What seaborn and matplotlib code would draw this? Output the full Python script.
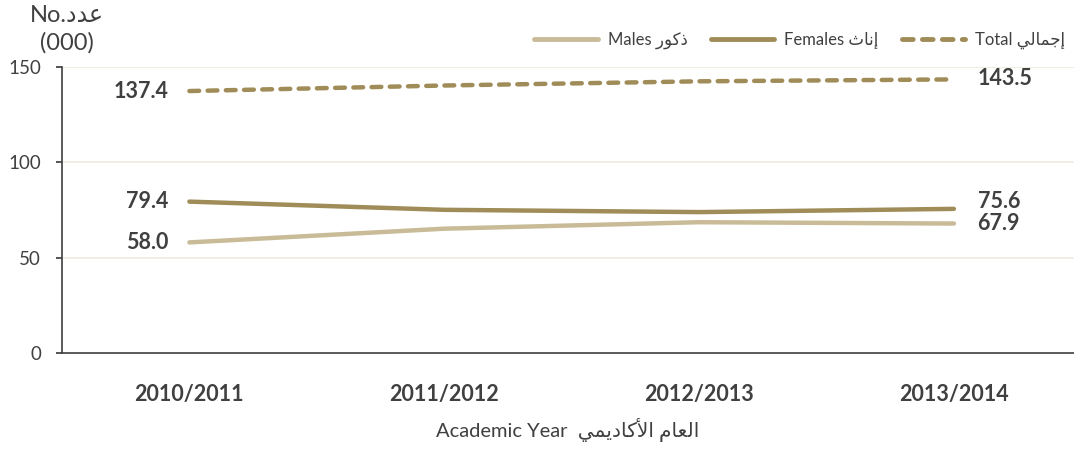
import matplotlib
matplotlib.use("Agg")
import matplotlib.pyplot as plt
import seaborn as sns
import pandas as pd

years = ["2010/2011", "2011/2012", "2012/2013", "2013/2014"]
males = [58.0, 65.2, 68.6, 67.9]
females = [79.4, 75.1, 73.9, 75.6]
total = [137.4, 140.3, 142.5, 143.5]

# Arabic words in visual (left-to-right) order using presentation forms
ar_no = "\uFEA9\uFEAA\uFECB"
ar_males = "\uFEAD\uFEEE\uFEDB\uFEAB"
ar_females = "\uFE99\uFE8E\uFEE7\uFE87"
ar_total = "\uFEF2\uFEDF\uFE8E\uFEE4\uFE9F\uFE87"
ar_year = "\uFEF2\uFEE4\uFEF3\uFEA9\uFE8E\uFEDB\uFEF7\uFE8D \uFEE1\uFE8E\uFECC\uFEDF\uFE8D"

lab_m = "Males " + ar_males
lab_f = "Females " + ar_females
lab_t = "Total " + ar_total

df = pd.DataFrame({
    "year": years * 3,
    "x": list(range(4)) * 3,
    "value": males + females + total,
    "series": [lab_m] * 4 + [lab_f] * 4 + [lab_t] * 4,
})

sns.set_theme(style="white")
plt.rcParams["font.family"] = ["Lato", "DejaVu Sans"]

text_c = "#404040"
c_m = "#c9bb98"
c_f = "#a08c58"

fig = plt.figure(figsize=(10.74, 4.51), dpi=100)
ax = fig.add_axes([0.0577, 0.2173, 0.942, 0.6341])

sns.lineplot(data=df, x="x", y="value", hue="series", style="series",
             palette={lab_m: c_m, lab_f: c_f, lab_t: c_f},
             dashes={lab_m: "", lab_f: "", lab_t: (2.2, 1.9)},
             linewidth=3.2, ax=ax, legend=True)
for ln in ax.lines:
    ln.set_solid_capstyle("round")
    ln.set_dash_capstyle("round")

ax.set_xlim(-0.5, 3.47)
ax.set_ylim(0, 150)
ax.set_yticks([0, 50, 100, 150])
ax.set_xticks(range(4))
ax.set_xticklabels(years, fontsize=15.5, fontweight="bold", color=text_c)
ax.tick_params(axis="y", labelsize=13.5, labelcolor=text_c, left=True, length=4, color="#404040", pad=11)
ax.tick_params(axis="x", bottom=False, pad=16)
ax.set_xlabel("Academic Year  " + ar_year, fontsize=14.5, color=text_c, labelpad=10)
ax.set_ylabel("")
for y in [50, 100, 150]:
    ax.axhline(y, color="#efe9dc", lw=1.2, zorder=0)
for s in ["top", "right"]:
    ax.spines[s].set_visible(False)
ax.spines["left"].set_color("#404040")
ax.spines["bottom"].set_color("#404040")
ax.spines["left"].set_linewidth(1.2)
ax.spines["bottom"].set_linewidth(1.2)

# data labels
lab_kw = dict(fontsize=15.5, fontweight="bold", color=text_c, va="center")
for vals, dy_l, dy_r in [(total, 0, 1), (females, 0, 5), (males, 0, 0)]:
    ax.annotate(f"{vals[0]:.1f}", (0, vals[0]), xytext=(-15, dy_l), textcoords="offset points", ha="right", **lab_kw)
    ax.annotate(f"{vals[-1]:.1f}", (3, vals[-1]), xytext=(17, dy_r), textcoords="offset points", ha="left", **lab_kw)

fig.text(0.062, 0.965, "No." + ar_no, fontsize=17, color=text_c, ha="center", va="center")
fig.text(0.062, 0.905, "(000)", fontsize=17, color=text_c, ha="center", va="center")

handles, labels = ax.get_legend_handles_labels()
ax.get_legend().remove()
leg = fig.legend(handles, labels, loc="center right", bbox_to_anchor=(1.006, 0.91), ncol=3,
                 frameon=False, fontsize=12, handlelength=3.8, columnspacing=1.4, handletextpad=0.6)
for t in leg.get_texts():
    t.set_color(text_c)
for h in leg.legend_handles:
    h.set_linewidth(3.5)
    h.set_solid_capstyle("round")
    h.set_dash_capstyle("round")

fig.savefig("out.png", dpi=100)
